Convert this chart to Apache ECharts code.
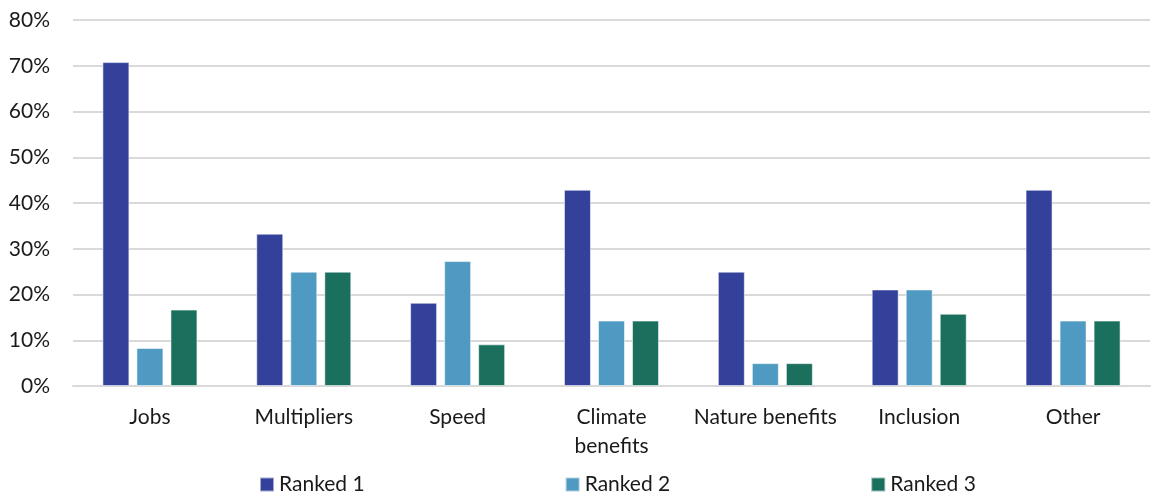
<!DOCTYPE html>
<html>
<head>
<meta charset="utf-8">
<script src="https://cdn.jsdelivr.net/npm/echarts@6/dist/echarts.min.js"></script>
<style>
  html, body { margin: 0; padding: 0; background: #fff; }
  #chart { width: 1152px; height: 496px; }
</style>
</head>
<body>
<div id="chart"></div>
<script>
// Share of respondents ranking each benefit first, second or third (%)
const categories = ['Jobs', 'Multipliers', 'Speed', 'Climate\nbenefits', 'Nature benefits', 'Inclusion', 'Other'];
const ranked1 = [70.8, 33.3, 18.2, 42.9, 25.0, 21.1, 42.9];
const ranked2 = [8.3, 25.0, 27.3, 14.3, 5.0, 21.1, 14.3];
const ranked3 = [16.7, 25.0, 9.1, 14.3, 5.0, 15.8, 14.3];
const seriesNames = ['Ranked 1', 'Ranked 2', 'Ranked 3'];
const yTicks = { min: 0, max: 80, interval: 10 };

const colors = ['#33419A', '#4F9AC2', '#1A6F5D'];
const fontFamily = 'Lato, "Open Sans", sans-serif';
const fontSize = 21;

const chart = echarts.init(document.getElementById('chart'), null, { renderer: 'canvas' });

function barSeries(name, data, color) {
  return {
    name: name,
    type: 'bar',
    data: data,
    barWidth: 27,
    barGap: '26%',
    itemStyle: { color: color, borderColor: 'rgba(255,255,255,0.55)', borderWidth: 1 }
  };
}

chart.setOption({
  animation: false,
  color: colors,
  textStyle: { fontFamily: fontFamily },
  grid: { left: 73, right: 2, top: 20, bottom: 110 },
  legend: {
    left: 254,
    top: 469,
    itemWidth: 14,
    itemHeight: 14,
    itemGap: 200,
    icon: 'rect',
    textStyle: { fontSize: fontSize, color: '#1a1a1a', fontFamily: fontFamily },
    data: seriesNames
  },
  xAxis: {
    type: 'category',
    data: categories,
    axisTick: { show: false },
    axisLine: { show: true, lineStyle: { color: '#d9d9d9', width: 2 } },
    axisLabel: { fontSize: fontSize, color: '#1a1a1a', margin: 17, lineHeight: 29, interval: 0 }
  },
  yAxis: {
    type: 'value',
    min: yTicks.min,
    max: yTicks.max,
    interval: yTicks.interval,
    axisLine: { show: false },
    axisTick: { show: false },
    splitLine: { lineStyle: { color: '#d9d9d9', width: 2 } },
    axisLabel: { fontSize: fontSize, color: '#1a1a1a', margin: 23, formatter: v => v + '%' }
  },
  series: [
    barSeries(seriesNames[0], ranked1, colors[0]),
    barSeries(seriesNames[1], ranked2, colors[1]),
    barSeries(seriesNames[2], ranked3, colors[2])
  ]
});
</script>
</body>
</html>
